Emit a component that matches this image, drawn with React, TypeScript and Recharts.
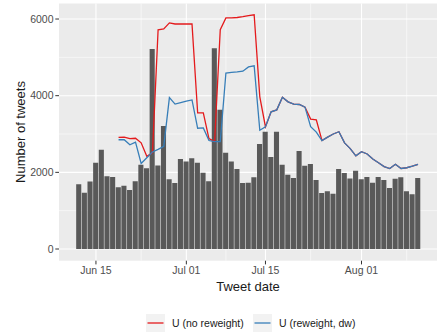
import { ComposedChart, Bar, Line, XAxis, YAxis, CartesianGrid, Legend } from 'recharts';

// daily tweet counts, Jun 12 .. Aug 11
const dates = [
  '06-12', '06-13', '06-14', '06-15', '06-16', '06-17', '06-18', '06-19', '06-20', '06-21',
  '06-22', '06-23', '06-24', '06-25', '06-26', '06-27', '06-28', '06-29', '06-30', '07-01',
  '07-02', '07-03', '07-04', '07-05', '07-06', '07-07', '07-08', '07-09', '07-10', '07-11',
  '07-12', '07-13', '07-14', '07-15', '07-16', '07-17', '07-18', '07-19', '07-20', '07-21',
  '07-22', '07-23', '07-24', '07-25', '07-26', '07-27', '07-28', '07-29', '07-30', '07-31',
  '08-01', '08-02', '08-03', '08-04', '08-05', '08-06', '08-07', '08-08', '08-09', '08-10',
  '08-11',
];

const tweets = [
  1690, 1470, 1760, 2250, 2590, 1900, 1880, 1610, 1650, 1540,
  1770, 2200, 2110, 5220, 2180, 3210, 1820, 1720, 2350, 2280,
  2370, 2250, 1990, 1770, 5240, 3630, 2510, 2280, 2090, 1720,
  1730, 1870, 2740, 3060, 2400, 3060, 2200, 1940, 1850, 2560,
  2170, 2220, 1800, 1460, 1510, 1440, 2090, 1980, 1840, 2040,
  1820, 1880, 1730, 1880, 1800, 1590, 1830, 1870, 1510, 1430,
  1850,
];

const noReweight = [
  null, null, null, null, null, null, null, 2910, 2920, 2880,
  2890, 2770, 2420, 2510, 5720, 5740, 5900, 5870, 5870, 5870,
  5870, 3550, 3550, 2880, 2800, 5720, 6030, 6030, 6040, 6060,
  6090, 6110, 3970, 3190, 3580, 3630, 3960, 3840, 3780, 3770,
  3700, 3390, 3370, 2830, 2920, 3000, 3060, 2770, 2620, 2430,
  2540, 2480, 2350, 2250, 2150, 2100, 2210, 2100, 2120, 2160,
  2210,
];

const reweightDw = [
  null, null, null, null, null, null, null, 2850, 2850, 2720,
  2790, 2230, 2380, 2530, 2600, 2680, 3950, 3780, 3820, 3860,
  3890, 3150, 3160, 2830, 2800, 2800, 4590, 4610, 4620, 4640,
  4750, 4780, 3100, 3190, 3580, 3630, 3960, 3840, 3780, 3770,
  3700, 3190, 3050, 2830, 2920, 3000, 3060, 2770, 2620, 2430,
  2540, 2480, 2350, 2250, 2150, 2100, 2210, 2100, 2120, 2160,
  2210,
];

const tickDates = ['06-15', '07-01', '07-15', '08-01'];
const tickLabels = ['Jun 15', 'Jul 01', 'Jul 15', 'Aug 01'];
const minorDates = ['06-23', '07-08', '07-23', '08-09'];

const FONT = '"Liberation Sans", Arial, sans-serif';
const RED = '#E41A1C';
const BLUE = '#377EB8';

const dayOf = (s: string) => {
  const [m, d] = s.split('-').map(Number);
  return (Date.UTC(2020, m - 1, d) - Date.UTC(2020, 5, 12)) / 86400000;
};

const data = dates.map((d, i) => ({
  day: dayOf(d),
  tweets: tweets[i],
  noReweight: noReweight[i],
  reweightDw: reweightDw[i],
}));

const majorTicks = tickDates.map(dayOf);
const minorTicks = minorDates.map(dayOf);

function renderLegend() {
  const items = [
    { label: 'U (no reweight)', color: RED, left: 146 },
    { label: 'U (reweight, dw)', color: BLUE, left: 253 },
  ];
  return (
    <div style={{ position: 'relative', width: 437, height: 20 }}>
      {items.map((it) => (
        <div key={it.label} style={{ position: 'absolute', left: it.left, top: 0, display: 'flex', alignItems: 'center' }}>
          <svg width={19} height={18} style={{ display: 'block' }}>
            <rect x={0} y={0} width={19} height={18} fill="#F2F2F2" />
            <line x1={1.5} x2={17.5} y1={9} y2={9} stroke={it.color} strokeWidth={1.3} />
          </svg>
          <span style={{ marginLeft: 7, fontFamily: FONT, fontSize: 10.5, color: '#1A1A1A', whiteSpace: 'nowrap' }}>
            {it.label}
          </span>
        </div>
      ))}
    </div>
  );
}

export default function App() {
  return (
    <div style={{ position: 'absolute', left: 0, top: 0 }}>
      <ComposedChart width={437} height={336} data={data} margin={{ top: 3.5, right: 0, bottom: 0, left: 0 }}>
        <CartesianGrid
          fill="#EBEBEB"
          stroke="#FFFFFF"
          strokeWidth={0.55}
          horizontalValues={[1000, 3000, 5000]}
          verticalValues={minorTicks}
        />
        <CartesianGrid
          stroke="#FFFFFF"
          strokeWidth={1.1}
          horizontalValues={[0, 2000, 4000, 6000]}
          verticalValues={majorTicks}
        />
        <XAxis
          type="number"
          dataKey="day"
          domain={[-3.54, 63.36]}
          allowDataOverflow
          ticks={majorTicks}
          tickFormatter={(v: number) => tickLabels[majorTicks.indexOf(v)] ?? ''}
          height={75.3}
          axisLine={false}
          tickSize={3.7}
          tickMargin={2.5}
          tickLine={{ stroke: '#333333', strokeWidth: 1 }}
          tick={{ fill: '#4D4D4D', fontSize: 10.5, fontFamily: FONT }}
          label={{
            content: () => (
              <text x={248} y={291} textAnchor="middle" fontFamily={FONT} fontSize={13} fill="#1A1A1A">
                Tweet date
              </text>
            ),
          }}
        />
        <YAxis
          type="number"
          domain={[-305, 6405]}
          allowDataOverflow
          ticks={[0, 2000, 4000, 6000]}
          width={59}
          axisLine={false}
          tickSize={3.7}
          tickMargin={1.8}
          tickLine={{ stroke: '#333333', strokeWidth: 1 }}
          tick={{ fill: '#4D4D4D', fontSize: 10.5, fontFamily: FONT }}
          label={{
            content: () => (
              <text
                x={24.5}
                y={132}
                transform="rotate(-90, 24.5, 132)"
                textAnchor="middle"
                fontFamily={FONT}
                fontSize={13}
                fill="#1A1A1A"
              >
                Number of tweets
              </text>
            ),
          }}
        />
        <Bar dataKey="tweets" fill="#595959" barSize={5.1} isAnimationActive={false} legendType="none" />
        <Line
          dataKey="noReweight"
          name="U (no reweight)"
          stroke={RED}
          strokeWidth={1.3}
          dot={false}
          activeDot={false}
          type="linear"
          isAnimationActive={false}
        />
        <Line
          dataKey="reweightDw"
          name="U (reweight, dw)"
          stroke={BLUE}
          strokeWidth={1.3}
          dot={false}
          activeDot={false}
          type="linear"
          isAnimationActive={false}
        />
        <Legend
          layout="horizontal"
          align="center"
          verticalAlign="middle"
          wrapperStyle={{ top: 314, left: 0, width: 437 }}
          content={renderLegend}
        />
      </ComposedChart>
    </div>
  );
}
